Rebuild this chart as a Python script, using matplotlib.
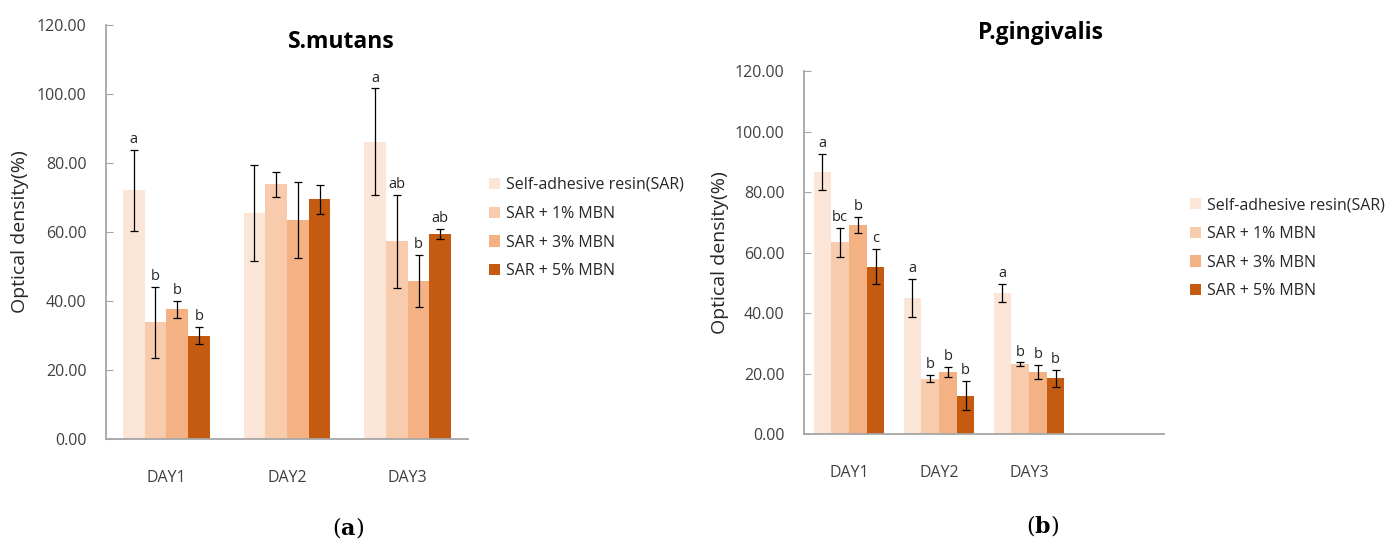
import matplotlib
matplotlib.use("Agg")
import matplotlib.pyplot as plt
import numpy as np

plt.rcParams['font.family'] = ['Open Sans', 'DejaVu Sans']
plt.rcParams['mathtext.fontset'] = 'dejavuserif'

days = ["DAY1", "DAY2", "DAY3"]
groups = ["Self-adhesive resin(SAR)", "SAR + 1% MBN", "SAR + 3% MBN", "SAR + 5% MBN"]
colors = ["#FBE5D6", "#F8CBAD", "#F4B183", "#C55A11"]

# S.mutans (rows = groups, cols = days)
sm_mean = [[72.1, 65.5, 86.2],
           [33.8, 73.8, 57.3],
           [37.6, 63.5, 45.8],
           [30.0, 69.5, 59.5]]
sm_sd = [[11.7, 13.9, 15.4],
         [10.4, 3.6, 13.5],
         [2.5, 11.0, 7.5],
         [2.6, 4.2, 1.4]]
sm_letters = [["a", "", "a"],
              ["b", "", "ab"],
              ["b", "", "b"],
              ["b", "", "ab"]]

# P.gingivalis
pg_mean = [[86.6, 45.0, 46.7],
           [63.4, 18.4, 23.2],
           [69.1, 20.6, 20.6],
           [55.4, 12.8, 18.5]]
pg_sd = [[5.9, 6.4, 3.0],
         [4.8, 1.2, 0.55],
         [2.6, 1.6, 2.4],
         [5.9, 4.8, 2.8]]
pg_letters = [["a", "a", "a"],
              ["bc", "b", "b"],
              ["b", "b", "b"],
              ["c", "b", "b"]]

W, H = 1397, 543
fig = plt.figure(figsize=(W / 100, H / 100), dpi=100)

def px_axes(x0, y0, x1, y1):
    return fig.add_axes([x0 / W, 1 - y1 / H, (x1 - x0) / W, (y1 - y0) / H])

axis_gray = "#A6A6A6"

def draw(ax, mean, sd, letters, bw, ncat, title, title_xy, ylab_xy, legend_xy):
    x = np.arange(len(days))
    n = len(groups)
    for i in range(n):
        pos = x + (i - (n - 1) / 2) * bw
        ax.bar(pos, mean[i], width=bw, color=colors[i], label=groups[i], zorder=2)
        ax.errorbar(pos, mean[i], yerr=sd[i], fmt="none", ecolor="black",
                    elinewidth=0.9, capsize=2.6, capthick=0.9, zorder=3)
        for j in range(len(days)):
            if letters[i][j]:
                ax.annotate(letters[i][j], (pos[j], mean[i][j] + sd[i][j]),
                            xytext=(0, 2), textcoords="offset points",
                            ha="center", va="bottom", fontsize=10.5, color="#222222")
    ax.set_xlim(-0.5, ncat - 0.5)
    ax.set_ylim(0, 120)
    ax.set_yticks(np.arange(0, 121, 20))
    ax.set_yticklabels([f"{v:.2f}" for v in np.arange(0, 121, 20)], fontsize=11.5, color="#404040")
    ax.set_xticks(x)
    ax.set_xticklabels(days, fontsize=11.5, color="#404040")
    ax.tick_params(axis="x", length=0, pad=22)
    ax.tick_params(axis="y", direction="in", length=5, color=axis_gray, pad=14)
    for s in ["top", "right"]:
        ax.spines[s].set_visible(False)
    for s in ["left", "bottom"]:
        ax.spines[s].set_color(axis_gray)
        ax.spines[s].set_linewidth(1.3)
    fig.text(title_xy[0] / W, 1 - title_xy[1] / H, title, fontsize=16.5,
             fontweight="bold", ha="center", va="center", color="black")
    fig.text(ylab_xy[0] / W, 1 - ylab_xy[1] / H, "Optical density(%)", rotation=90,
             fontsize=14, ha="center", va="center", color="#262626")
    ax.legend(loc="upper left", bbox_to_anchor=(legend_xy[0] / W, 1 - legend_xy[1] / H),
              bbox_transform=fig.transFigure, frameon=False, fontsize=11.5,
              handlelength=0.7, handleheight=0.7, handletextpad=0.35,
              labelspacing=0.8, borderpad=0, borderaxespad=0, labelcolor="#262626")

ax1 = px_axes(106, 25, 468, 439)
draw(ax1, sm_mean, sm_sd, sm_letters, 0.18, 3, "S.mutans", (341, 42), (20, 232), (489, 177))

ax2 = px_axes(804, 71, 1164, 434.3)
draw(ax2, pg_mean, pg_sd, pg_letters, 0.197, 4, "P.gingivalis", (1040, 33), (720, 253), (1190, 197))

fig.text(348 / W, 1 - 527 / H, r"($\mathbf{a}$)", fontsize=16, ha="center", va="center",
         family="DejaVu Serif")
fig.text(1043 / W, 1 - 526 / H, r"($\mathbf{b}$)", fontsize=16, ha="center", va="center",
         family="DejaVu Serif")

fig.savefig("out.png", dpi=100)
